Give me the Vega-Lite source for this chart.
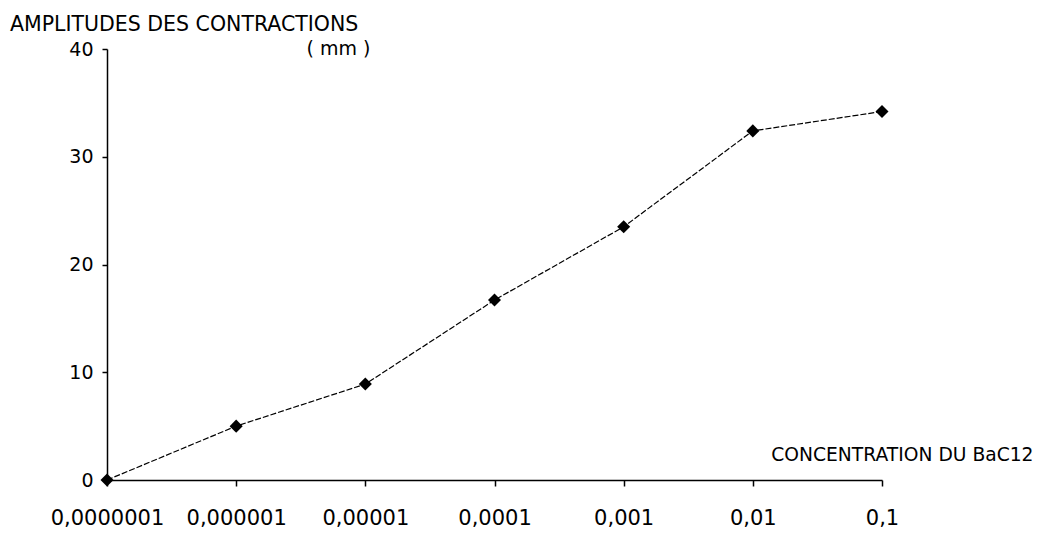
{
  "$schema": "https://vega.github.io/schema/vega-lite/v6.json",
  "width": 775,
  "height": 431,
  "autosize": "none",
  "padding": {"left": 107, "top": 49, "right": 156, "bottom": 57},
  "background": "white",
  "config": {"view": {"stroke": null}, "font": "DejaVu Sans"},
  "title": {
    "text": "AMPLITUDES DES CONTRACTIONS",
    "anchor": "start",
    "frame": "group",
    "dx": -97,
    "offset": -6,
    "baseline": "middle",
    "fontSize": 20.5,
    "fontWeight": "normal",
    "font": "DejaVu Sans",
    "color": "black"
  },
  "data": {
    "values": [
      {"concentration": "0,0000001", "amplitude": 0},
      {"concentration": "0,000001", "amplitude": 5.0},
      {"concentration": "0,00001", "amplitude": 8.9},
      {"concentration": "0,0001", "amplitude": 16.7},
      {"concentration": "0,001", "amplitude": 23.5},
      {"concentration": "0,01", "amplitude": 32.4},
      {"concentration": "0,1", "amplitude": 34.2}
    ]
  },
  "encoding": {
    "x": {
      "field": "concentration",
      "type": "ordinal",
      "sort": ["0,0000001", "0,000001", "0,00001", "0,0001", "0,001", "0,01", "0,1"],
      "scale": {"type": "point", "padding": 0},
      "axis": {
        "title": "CONCENTRATION DU BaC12",
        "titleX": 926,
        "titleY": -25.5,
        "titleAlign": "right",
        "titleBaseline": "middle",
        "titleAnchor": null,
        "titleFontSize": 18.7,
        "titleFontWeight": "normal",
        "titleColor": "black",
        "labelAngle": 0,
        "labelFontSize": 21,
        "labelColor": "black",
        "labelPadding": 21,
        "labelOverlap": false,
        "tickSize": 6,
        "tickColor": "black",
        "tickWidth": 1.5,
        "domainColor": "black",
        "domainWidth": 1.5,
        "grid": false
      }
    },
    "y": {
      "field": "amplitude",
      "type": "quantitative",
      "scale": {"domain": [0, 40], "nice": false},
      "axis": {
        "values": [0, 10, 20, 30, 40],
        "title": "( mm )",
        "titleAngle": 0,
        "titleX": 231,
        "titleY": -1,
        "titleAlign": "center",
        "titleBaseline": "middle",
        "titleFontSize": 19,
        "titleFontWeight": "normal",
        "titleColor": "black",
        "labelFontSize": 19,
        "labelColor": "black",
        "labelPadding": 9,
        "tickSize": 5,
        "tickColor": "black",
        "tickWidth": 1.5,
        "domainColor": "black",
        "domainWidth": 1.5,
        "grid": false
      }
    }
  },
  "layer": [
    {"mark": {"type": "line", "color": "black", "strokeWidth": 1.2, "strokeDash": [6, 2]}},
    {"mark": {"type": "point", "shape": "diamond", "filled": true, "color": "black", "size": 170, "opacity": 1}}
  ]
}
